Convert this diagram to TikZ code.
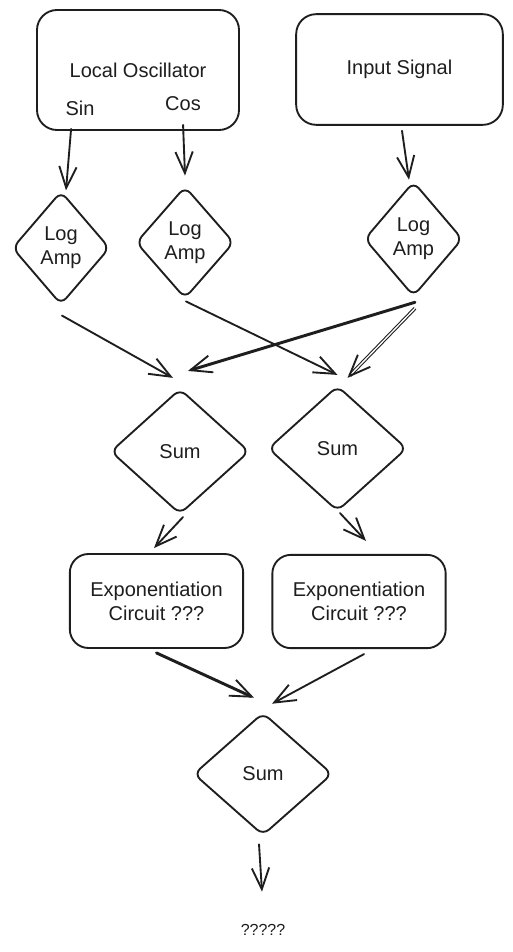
\documentclass[tikz,border=0pt]{standalone}
\usepackage{fontspec}
\setmainfont{Liberation Sans}
\usetikzlibrary{shapes.geometric,arrows.meta,calc}
\definecolor{ink}{HTML}{1E1E1E}
\begin{document}
\begin{tikzpicture}[x=0.75pt,y=-0.75pt,
  every node/.style={text=ink,font=\fontsize{15}{18}\selectfont},
  boxnode/.style={draw=ink,line width=1.4pt,rounded corners=15pt,rectangle,inner sep=0pt},
  dianode/.style={draw=ink,line width=1.4pt,diamond,rounded corners=6pt,inner sep=0pt,align=center},
  arr/.style={draw=ink,line width=1.4pt,line cap=round,-{Straight Barb[length=16pt,width=13pt,line width=1.4pt]}},
  thickarr/.style={arr,line width=2.2pt},
  dblarr/.style={draw=ink,line width=0.8pt,double=white,double distance=1pt,-{Straight Barb[length=16pt,width=13pt,line width=1.4pt]}}
]
\useasboundingbox[fill=white] (0,0) rectangle (513,952);

% boxes
\node[boxnode,minimum width=151.5pt,minimum height=90pt] (lo) at (138,70) {Local Oscillator};
\node (sin) at (80,108) {Sin};
\node (cos) at (183,104) {Cos};
\node[boxnode,minimum width=155pt,minimum height=83pt] (in) at (399.5,69.5) {Input Signal};

% log amps
\node[dianode,minimum width=73pt,minimum height=85pt] (la1) at (61,248) {Log\\Amp};
\node[dianode,minimum width=73.5pt,minimum height=84pt] (la2) at (185,242.5) {Log\\Amp};
\node[dianode,minimum width=73.5pt,minimum height=86pt] (la3) at (413.5,239) {Log\\Amp};

% sums
\node[dianode,minimum width=104pt,minimum height=94pt] (s1) at (180,451.5) {Sum};
\node[dianode,minimum width=104pt,minimum height=94pt] (s2) at (337.5,448.5) {Sum};

% exponentiation
\node[boxnode,rounded corners=14pt,minimum width=130pt,minimum height=70.5pt,align=center] (e1) at (156.5,601) {Exponentiation\\Circuit ???};
\node[boxnode,rounded corners=14pt,minimum width=130pt,minimum height=70pt,align=center] (e2) at (359,601.5) {Exponentiation\\Circuit ???};

% final sum
\node[dianode,minimum width=104pt,minimum height=92pt] (s3) at (263,774) {Sum};
\node[font=\fontsize{12}{14}\selectfont] (q) at (263,930) {?????};

% connectors
\draw[arr] ($(lo.south west)+(35,-2)$) -- ($(la1.north)+(5,0)$);
\draw[arr] ($(lo.south west)+(147,-6)$) -- ($(la2.north)+(0,-10)$);
\draw[arr] ($(in.south)+(2.5,5)$) -- ($(la3.north)+(-4.5,-1)$);
\draw[arr] ($(la1.south)+(1,10)$) -- ($(s1.north)+(-7,-10)$);
\draw[arr] ($(la2.south)+(1,2)$) -- ($(s2.north)+(0,-10)$);
\draw[thickarr] ($(la3.south)+(1.5,5)$) -- ($(s1.north)+(8,-17)$);
\draw[dblarr] ($(la3.south)+(1.5,11)$) -- ($(s2.north)+(10,-7)$);
\draw[arr] ($(s1.south)+(3,2)$) -- ($(e1.north)+(-2.5,-5)$);
\draw[arr] ($(s2.south)+(2.5,1)$) -- ($(e2.north)+(7,-13)$);
\draw[thickarr] ($(e1.south)+(0,4)$) -- ($(s3.north)+(-9,-14)$);
\draw[arr] ($(e2.south)+(5,5)$) -- ($(s3.north)+(9,-8)$);
\draw[arr] ($(s3.south)+(-4,8)$) -- ($(q.north)+(-1,-28)$);
\end{tikzpicture}
\end{document}
